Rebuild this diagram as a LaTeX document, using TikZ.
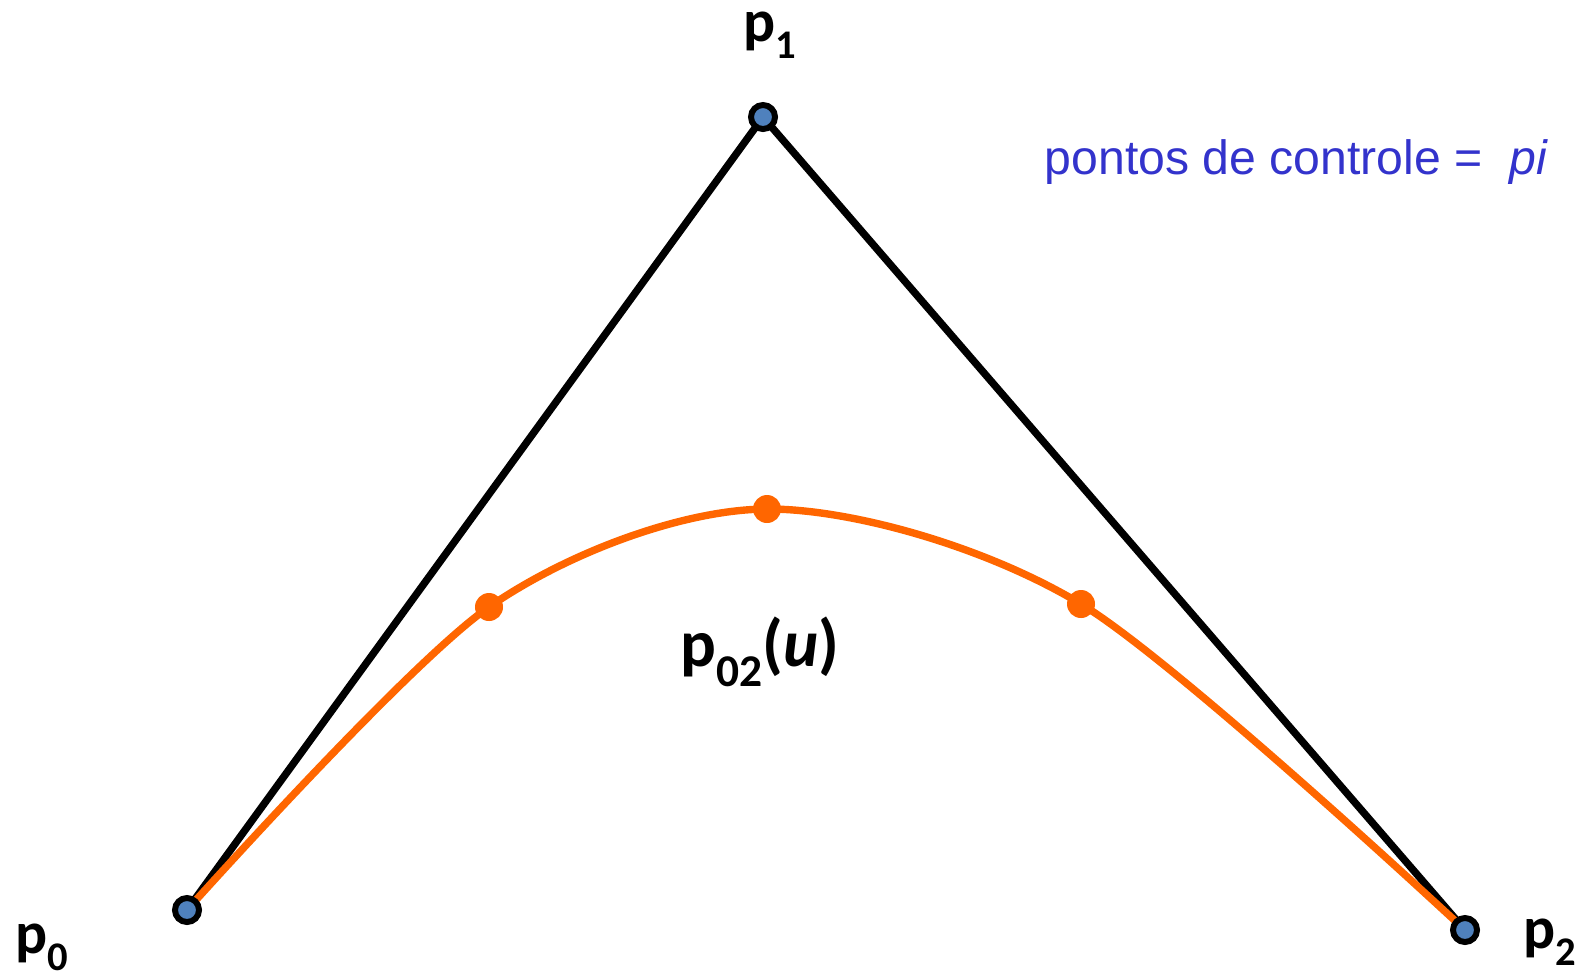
\documentclass[tikz,border=0pt]{standalone}
\usepackage{fontspec}
\setmainfont{Carlito}
\newfontfamily\arialfont{Liberation Sans}
\usepackage{xcolor}
\usepackage{tikz}
\usetikzlibrary{backgrounds}
\definecolor{ptblue}{HTML}{4F81BD}
\definecolor{bzorange}{HTML}{FF6600}
\definecolor{notablue}{HTML}{3333CC}
\newcommand{\ptname}[1]{p\raisebox{-0.3em}{\scalebox{0.68}{#1}}}
\tikzset{
  ctrlpt/.style={
    circle, draw=black, line width=1.7pt, fill=ptblue,
    minimum size=0.24cm, inner sep=0pt
  },
  curvedot/.style={
    circle, fill=bzorange, minimum size=0.28cm, inner sep=0pt
  },
  polyline/.style={
    line width=2.1pt, color=black, line join=round
  },
  curveline/.style={
    line width=2.1pt, color=bzorange
  },
  ptlabel/.style={
    font=\fontsize{17}{20}\selectfont\bfseries,
    inner sep=0pt, anchor=base west
  },
}

\begin{document}
\begin{tikzpicture}[x=0.01cm, y=-0.01cm]
  \useasboundingbox (0,0) rectangle (1588,978);
  % control points
  \node[ctrlpt] (p0) at (187,910) {};
  \node[ctrlpt] (p1) at (763,117) {};
  \node[ctrlpt] (p2) at (1465,930) {};
  % points on the curve
  \node[curvedot] (u1) at (489,607) {};
  \node[curvedot] (u2) at (767,509) {};
  \node[curvedot] (u3) at (1081,604) {};
  \begin{scope}[on background layer]
    \draw[polyline] (p0.center) -- (p1.center) -- (p2.center);
    \draw[curveline] plot[smooth, tension=0.5]
      coordinates {(p0.center) (u1) (u2) (u3) (p2.center)};
  \end{scope}
  % labels
  \node[ptlabel] (lp0) at (15,953) {\ptname{0}};
  \node[ptlabel] (lp1) at (743,41) {\ptname{1}};
  \node[ptlabel] (lp2) at (1523,948) {\ptname{2}};
  \node[ptlabel, font=\fontsize{19}{22}\selectfont\bfseries] (lcurve) at (680,666)
    {\ptname{02}(\textit{u})};
  \node[anchor=base west, inner sep=0pt, text=notablue,
        font=\arialfont\fontsize{13.7}{16}\selectfont] (note) at (1044,174)
    {pontos de controle =\ \ \textit{pi}};
\end{tikzpicture}
\end{document}
